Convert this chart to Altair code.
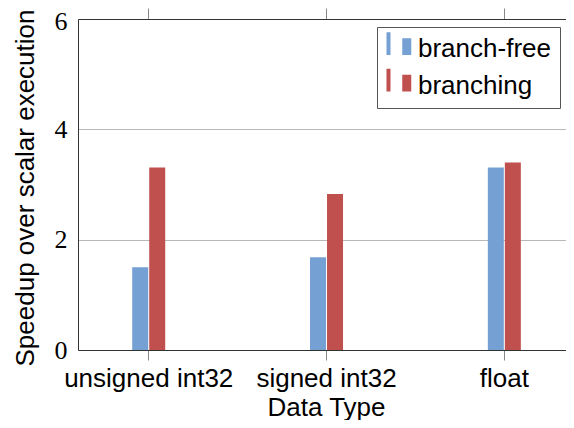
import altair as alt
import pandas as pd

categories = ["unsigned int32", "signed int32", "float"]
series = ["branch-free", "branching"]
branch_free = [1.50, 1.68, 3.31]
branching = [3.31, 2.83, 3.40]
y_ticks = [0, 2, 4, 6]
colors = ["#74a0d4", "#c0504d"]

rows = []
for c, a, b in zip(categories, branch_free, branching):
    rows.append({"type": c, "impl": series[0], "speedup": a})
    rows.append({"type": c, "impl": series[1], "speedup": b})
df = pd.DataFrame(rows)

sans = "Liberation Sans"
serif = "Liberation Serif"
x_scale = alt.Scale(domain=categories, paddingInner=0.8088, paddingOuter=0.2767, align=0.546)
legend_symbol = "M-1,-1.34H-0.68V0.48H-1Z M0.26,-0.86H0.98V0.48H0.26Z"

bars = alt.Chart(df).mark_bar(width=16).encode(
    x=alt.X("type:N", scale=x_scale, sort=categories,
            axis=alt.Axis(title="Data Type", orient="bottom", labelAngle=0,
                          labelFont=sans, labelFontSize=26, labelColor="black",
                          labelBaseline="alphabetic", labelPadding=26.5,
                          tickSize=10, tickColor="#888888",
                          domainColor="#333333", titleFont=sans, titleFontSize=26,
                          titleFontWeight="normal", titleColor="black",
                          titleBaseline="alphabetic", titleX=248, titleY=65)),
    xOffset=alt.XOffset("impl:N", sort=series,
                        scale=alt.Scale(domain=series, paddingInner=0, paddingOuter=0)),
    y=alt.Y("speedup:Q", scale=alt.Scale(domain=[0, 6]),
            axis=alt.Axis(values=y_ticks, title="Speedup over scalar execution",
                          labelFont=serif, labelFontSize=26, labelColor="black",
                          labelPadding=11, ticks=False, domainColor="#333333",
                          labelOffset={"condition": {"test": "datum.value == 6", "value": 2},
                                       "value": 0},
                          grid=True, gridColor="#b8b8b8",
                          titleFont=sans, titleFontSize=26, titleFontWeight="normal",
                          titleColor="black", titleX=-45, titleY=168.5,
                          titleBaseline="alphabetic")),
    color=alt.Color("impl:N", sort=series, scale=alt.Scale(domain=series, range=colors),
                    legend=alt.Legend(title=None, orient="none", legendX=299, legendY=8,
                                      strokeColor="#555555", fillColor="white", padding=9,
                                      symbolType=legend_symbol, symbolSize=625,
                                      symbolStrokeWidth=0, symbolOpacity=1,
                                      labelFont=sans, labelFontSize=26, labelColor="black",
                                      labelOffset=6, rowPadding=6.5)),
)

top = alt.Chart(df).mark_rule(opacity=0).encode(
    x=alt.X("type:N", scale=x_scale, sort=categories,
            axis=alt.Axis(orient="top", labels=False, title=None, ticks=True, tickSize=11,
                          tickColor="#888888", domainColor="#333333")),
)

chart = alt.layer(bars, top).resolve_axis(x="independent").properties(
    width=488, height=331,
    padding={"left": 70, "top": 11, "right": 0, "bottom": 70},
    autosize=alt.AutoSizeParams(type="none"),
).configure_view(stroke=None)

chart.save("out.html", embed_options={"renderer": "svg", "actions": False})
